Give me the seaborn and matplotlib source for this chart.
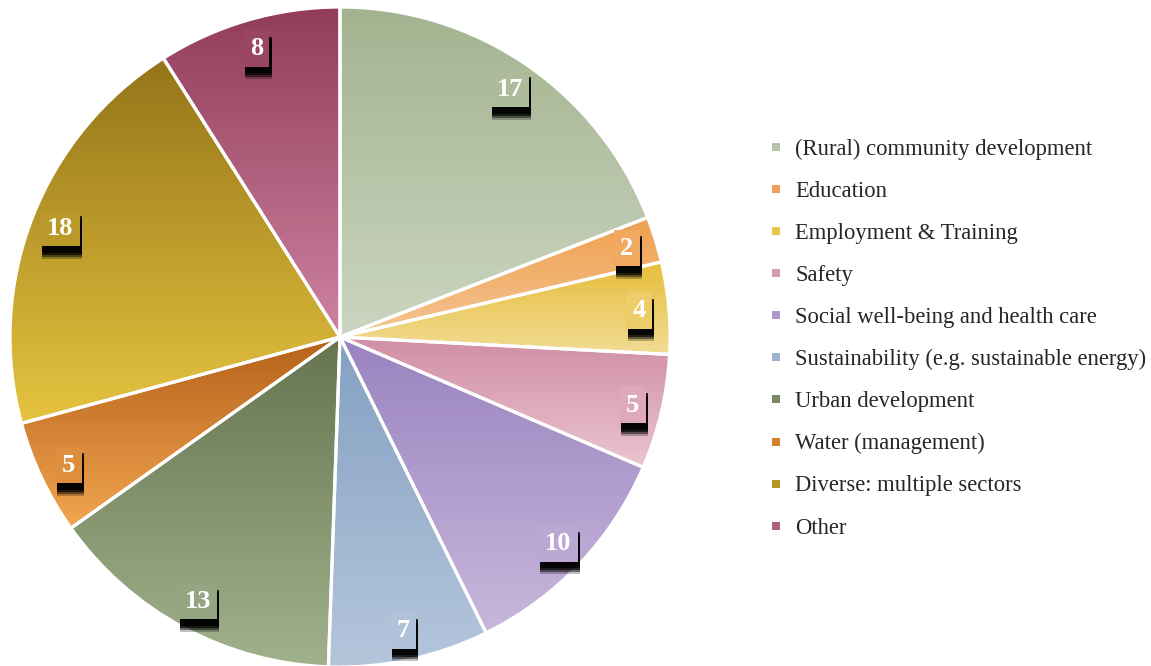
import numpy as np
import seaborn as sns
import matplotlib.pyplot as plt
import matplotlib.patheffects as pe
from matplotlib.lines import Line2D

# Projects per sector
sectors = ['(Rural) community development', 'Education', 'Employment & Training', 'Safety',
           'Social well-being and health care', 'Sustainability (e.g. sustainable energy)',
           'Urban development', 'Water (management)', 'Diverse: multiple sectors', 'Other']
counts = [17, 2, 4, 5, 10, 7, 13, 5, 18, 8]

# gradient colours per slice (top -> bottom) and legend marker colours
top_colors = ['#a3b38f', '#ef9f4e', '#e6bd3a', '#d08ea4', '#9a83bf',
              '#84a0c2', '#65744f', '#b5611a', '#947418', '#923c5a']
bottom_colors = ['#cbd5c0', '#f5c594', '#f2dc95', '#ebc4cf', '#c8b7dc',
                 '#b4c6dc', '#a0b28d', '#f2a650', '#e6c440', '#cd83a0']
legend_colors = ['#b7c4a8', '#f0a060', '#e8c44a', '#d89aae', '#a996cb',
                 '#9bb2d0', '#7a8c63', '#d5822f', '#b8961f', '#b0607e']

sns.set_theme(style='white')
plt.rcParams['font.family'] = ['Liberation Serif', 'DejaVu Serif']

fig = plt.figure(figsize=(11.51, 6.66), dpi=100)
ax = fig.add_axes([0, 0, 1, 1])

total = sum(counts)
wedges, texts, autotexts = ax.pie(
    counts, startangle=90, counterclock=False, radius=330, center=(340, 329),
    autopct=lambda p: f'{int(round(p * total / 100))}', pctdistance=0.91,
    wedgeprops=dict(facecolor='none', edgecolor='white', linewidth=2.3, zorder=2),
    textprops=dict(color='white', fontsize=19, fontweight='bold'))

# soft shadow under the label boxes: a few stacked offset copies
shadow = [pe.SimplePatchShadow(offset=(1.5, -d), shadow_rgbFace='black', alpha=a)
          for d, a in [(9, 0.25), (7.5, 0.45), (6, 0.65), (4.5, 0.8)]]

for w, autotext, c0, c1 in zip(wedges, autotexts, top_colors, bottom_colors):
    ext = w.get_path().get_extents()
    grad = np.array(sns.blend_palette([c0, c1], n_colors=256))[:, None, :]
    im = ax.imshow(grad, extent=(ext.x0, ext.x1, ext.y0, ext.y1), origin='upper',
                   aspect='auto', interpolation='bilinear', zorder=1)
    im.set_clip_path(w)
    # label box takes the slice colour at its height
    y = autotext.get_position()[1]
    f = np.clip((ext.y1 - y) / (ext.y1 - ext.y0), 0, 1)
    box_color = grad[int(f * 255), 0]
    autotext.set_zorder(5)
    autotext.set_bbox(dict(boxstyle='square,pad=0.25', facecolor=box_color, edgecolor='none'))
    autotext.get_bbox_patch().set_path_effects(shadow + [pe.Normal()])

ax.set_xlim(0, 1151)
ax.set_ylim(0, 666)
ax.set_aspect('auto')
ax.axis('off')

handles = [Line2D([], [], marker='s', linestyle='none', markersize=5.5,
                  markerfacecolor=c, markeredgewidth=0) for c in legend_colors]
ax.legend(handles, sectors, loc='center left', bbox_to_anchor=(0.6585, 0.4917),
          bbox_transform=fig.transFigure, frameon=False, fontsize=16.3,
          labelspacing=0.93, handlelength=0.8, handletextpad=0.44, borderaxespad=0)

fig.savefig('out.png', dpi=100)
